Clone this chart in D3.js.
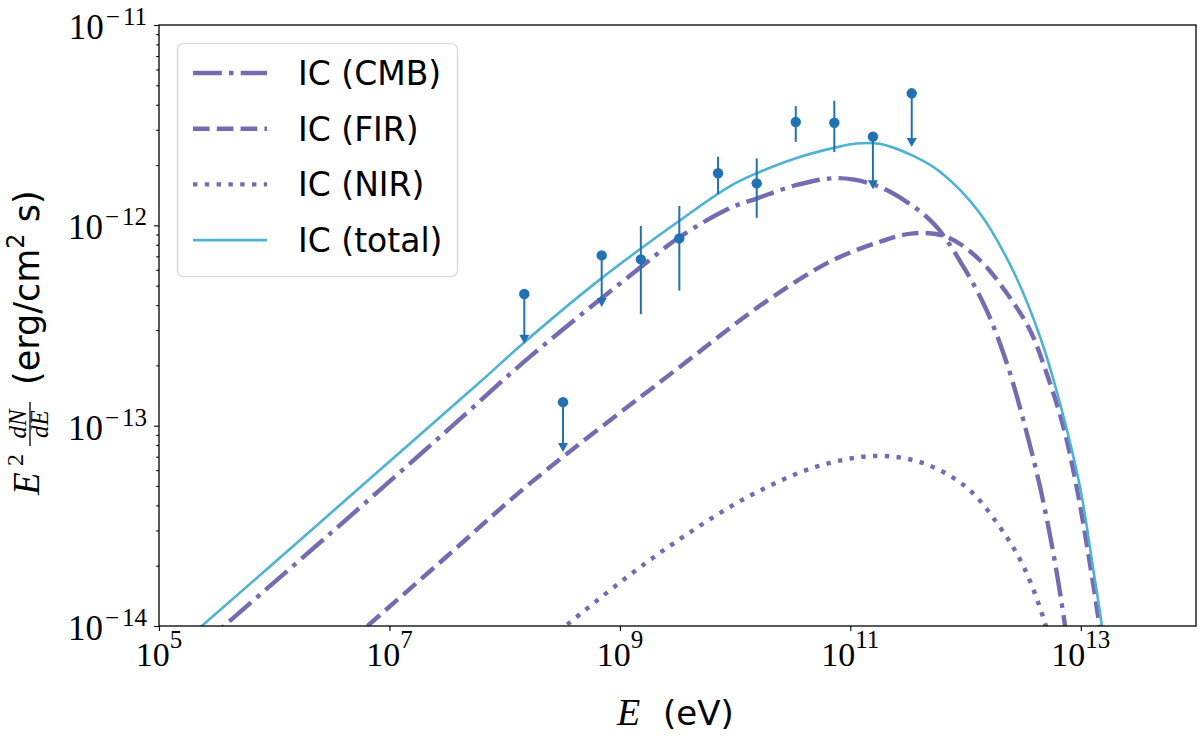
<!DOCTYPE html>
<html>
<head>
<meta charset="utf-8">
<script src="https://cdn.jsdelivr.net/npm/d3@7"></script>
<style>
  html, body { margin: 0; padding: 0; background: #fff; }
  svg { display: block; }
</style>
</head>
<body>
<div id="chart"></div>
<script>
// Flux points (eV, erg/cm^2/s)
const pointE = [1.48e8, 3.21e8, 6.95e8, 1.52e9, 3.28e9, 7.11e9, 1.54e10, 3.36e10, 7.26e10, 1.57e11, 3.41e11];
const pointFlux = [4.54e-13, 1.31e-13, 7.08e-13, 6.76e-13, 8.61e-13, 1.82e-12, 1.62e-12, 3.28e-12, 3.25e-12, 2.77e-12, 4.56e-12];
const pointLow = [2.62e-13, 7.57e-14, 4.00e-13, 3.60e-13, 4.72e-13, 1.43e-12, 1.09e-12, 2.61e-12, 2.32e-12, 1.55e-12, 2.52e-12];
const pointHigh = [null, null, null, 9.93e-13, 1.25e-12, 2.20e-12, 2.16e-12, 3.94e-12, 4.19e-12, null, null];
const upperLimit = [true, true, true, false, false, false, false, false, false, true, true];

// Model curves
const cmbE = [2.0e5, 3.74e5, 3.16e6, 3.16e7, 1.66e8, 1.52e9, 3.33e9, 9.04e9, 1.54e10, 3.42e10, 7.60e10, 1.58e11, 3.08e11, 5.45e11, 9.57e11, 1.52e12, 2.28e12, 3.17e12, 4.43e12, 5.78e12, 7.29e12, 8.32e12];
const cmbFlux = [7.36e-15, 1.01e-14, 2.94e-14, 9.44e-14, 2.21e-13, 6.19e-13, 8.77e-13, 1.22e-12, 1.36e-12, 1.59e-12, 1.72e-12, 1.60e-12, 1.31e-12, 1.00e-12, 6.22e-13, 3.78e-13, 2.05e-13, 1.07e-13, 4.95e-14, 2.31e-14, 1.01e-14, 5.6e-15];

const firE = [3.16e6, 6.35e6, 3.16e7, 1.66e8, 3.33e9, 1.76e10, 6.67e10, 1.81e11, 3.52e11, 6.85e11, 1.33e12, 2.28e12, 3.62e12, 5.06e12, 7.06e12, 9.20e12, 1.16e13, 1.45e13, 1.66e13];
const firFlux = [6.98e-15, 9.93e-15, 2.23e-14, 5.15e-14, 1.97e-13, 4.08e-13, 6.59e-13, 8.28e-13, 9.12e-13, 8.77e-13, 6.71e-13, 4.58e-13, 3.00e-13, 1.82e-13, 9.89e-14, 4.95e-14, 2.31e-14, 1.01e-14, 5.6e-15];

const nirE = [2.0e8, 3.43e8, 1.16e9, 3.62e9, 1.30e10, 5.07e10, 1.71e11, 4.32e11, 1.02e12, 1.93e12, 3.19e12, 4.90e12, 5.75e12];
const nirFlux = [7.94e-15, 1.01e-14, 1.76e-14, 2.81e-14, 4.42e-14, 6.24e-14, 7.06e-14, 6.49e-14, 4.92e-14, 3.19e-14, 1.98e-14, 1.03e-14, 7.08e-15];

const totalE = [1.0e5, 2.35e5, 1.0e6, 1.0e7, 6.11e7, 1.45e8, 6.95e8, 3.33e9, 9.04e9, 1.54e10, 3.42e10, 7.5e10, 1.13e11, 1.81e11, 3.52e11, 6.0e11, 1.33e12, 2.60e12, 4.43e12, 6.61e12, 9.84e12, 1.285e13, 1.52e13, 1.78e13];
const totalFlux = [6.50e-15, 1.0e-14, 2.07e-14, 6.62e-14, 1.65e-13, 2.58e-13, 5.45e-13, 1.06e-12, 1.57e-12, 1.82e-12, 2.17e-12, 2.45e-12, 2.56e-12, 2.55e-12, 2.22e-12, 1.85e-12, 1.15e-12, 5.9e-13, 2.78e-13, 1.29e-13, 4.95e-14, 1.91e-14, 1.01e-14, 4.47e-15];

const legendLabels = ['IC (CMB)', 'IC (FIR)', 'IC (NIR)', 'IC (total)'];
const xTicks = [1e5, 1e7, 1e9, 1e11, 1e13];
const xTickExp = ['5', '7', '9', '11', '13'];
const yTicks = [1e-14, 1e-13, 1e-12, 1e-11];
const yTickExp = ['14', '13', '12', '11'];

const purple = '#756bb1';
const cyan = '#4eb3d3';
const blue = '#2171b5';
const serif = "'Liberation Serif', 'DejaVu Serif', serif";
const sans = "'DejaVu Sans', sans-serif";

const width = 1200;
const height = 746;
const plot = {left: 159, right: 1196, top: 25, bottom: 626};

const svg = d3.select('#chart').append('svg')
    .attr('width', width)
    .attr('height', height);

const x = d3.scaleLog().domain([1e5, 1e14]).range([plot.left, plot.right]);
const y = d3.scaleLog().domain([1e-14, 1e-11]).range([plot.bottom, plot.top]);

svg.append('clipPath').attr('id', 'plot-clip')
  .append('rect')
    .attr('x', plot.left).attr('y', plot.top)
    .attr('width', plot.right - plot.left)
    .attr('height', plot.bottom - plot.top);

// Curves
const series = [
    {e: cmbE, f: cmbFlux, color: purple, w: 4.4, dash: '28.8,7.2,4.5,7.2'},
    {e: firE, f: firFlux, color: purple, w: 4.4, dash: '16.6,7.2'},
    {e: nirE, f: nirFlux, color: purple, w: 4.4, dash: '4.4,7.4'},
    {e: totalE, f: totalFlux, color: cyan, w: 2.6, dash: null}
];

const line = d3.line()
    .x(d => x(d[0]))
    .y(d => y(d[1]))
    .curve(d3.curveCatmullRom.alpha(0.5));

const curves = svg.append('g').attr('clip-path', 'url(#plot-clip)');
series.forEach(s => {
    curves.append('path')
        .attr('d', line(s.e.map((e, i) => [e, s.f[i]])))
        .attr('fill', 'none')
        .attr('stroke', s.color)
        .attr('stroke-width', s.w)
        .attr('stroke-dasharray', s.dash);
});

// Data points, error bars and upper limits
const points = svg.append('g');
pointE.forEach((e, i) => {
    const px = x(e);
    const top = upperLimit[i] ? y(pointFlux[i]) : y(pointHigh[i]);
    const bottom = y(pointLow[i]);
    points.append('line')
        .attr('x1', px).attr('x2', px)
        .attr('y1', top).attr('y2', upperLimit[i] ? bottom - 4 : bottom)
        .attr('stroke', blue)
        .attr('stroke-width', 2);
    if (upperLimit[i]) {
        points.append('path')
            .attr('d', `M${px - 5},${bottom - 7}L${px + 5},${bottom - 7}L${px},${bottom + 2}Z`)
            .attr('fill', blue);
    }
    points.append('circle')
        .attr('cx', px)
        .attr('cy', y(pointFlux[i]))
        .attr('r', 5.2)
        .attr('fill', blue);
});

// Axes
const xAxis = svg.append('g')
    .attr('transform', `translate(0,${plot.bottom})`)
    .call(d3.axisBottom(x).tickValues(xTicks).tickSize(5).tickFormat(''));

const minorY = [];
[1e-14, 1e-13, 1e-12].forEach(base => {
    [2, 3, 4, 5, 6, 7, 8, 9].forEach(m => minorY.push(base * m));
});
const yMinor = svg.append('g')
    .attr('transform', `translate(${plot.left},0)`)
    .call(d3.axisLeft(y).tickValues(minorY).tickSize(2.8).tickFormat(''));
const yAxis = svg.append('g')
    .attr('transform', `translate(${plot.left},0)`)
    .call(d3.axisLeft(y).tickValues(yTicks).tickSize(5).tickFormat(''));

[xAxis, yMinor, yAxis].forEach(a => {
    a.select('.domain').remove();
    a.selectAll('.tick line').attr('stroke', '#000').attr('stroke-width', 1.1);
});

// Tick labels as 10^n
xTicks.forEach((t, i) => {
    const label = svg.append('text')
        .attr('x', x(t))
        .attr('y', 666)
        .attr('text-anchor', 'middle')
        .attr('font-family', serif)
        .attr('font-size', 34)
        .attr('fill', '#000');
    label.append('tspan').text('10');
    label.append('tspan').attr('dy', -18).attr('font-size', 25).text(xTickExp[i]);
});

yTicks.forEach((t, i) => {
    const label = svg.append('text')
        .attr('x', 147)
        .attr('y', y(t) + 14)
        .attr('text-anchor', 'end')
        .attr('font-family', serif)
        .attr('font-size', 35)
        .attr('fill', '#000');
    label.append('tspan').text('10');
    label.append('tspan').attr('dy', -14).attr('dx', 2).attr('font-size', 25).text('\u2212');
    label.append('tspan').attr('dx', 3).attr('font-size', 25).text(yTickExp[i]);
});

// x label: E (eV)
svg.append('text')
    .attr('x', 617).attr('y', 725)
    .attr('font-family', serif).attr('font-style', 'italic').attr('font-size', 38)
    .attr('fill', '#000')
    .text('E');
svg.append('text')
    .attr('x', 663).attr('y', 725)
    .attr('font-family', sans).attr('font-size', 34)
    .attr('fill', '#000')
    .text('(eV)');

// y label: E^2 dN/dE (erg/cm^2 s)
const yLabel = svg.append('g')
    .attr('transform', 'translate(39,495) rotate(-90)')
    .attr('fill', '#000');
yLabel.append('text')
    .attr('x', 0).attr('y', 0)
    .attr('font-family', serif).attr('font-style', 'italic').attr('font-size', 37)
    .text('E');
yLabel.append('text')
    .attr('x', 29).attr('y', -16)
    .attr('font-family', serif).attr('font-size', 24)
    .text('2');
yLabel.append('text')
    .attr('x', 71).attr('y', -13)
    .attr('text-anchor', 'middle')
    .attr('font-family', serif).attr('font-style', 'italic').attr('font-size', 25)
    .text('dN');
yLabel.append('line')
    .attr('x1', 49).attr('x2', 93)
    .attr('y1', -9).attr('y2', -9)
    .attr('stroke', '#000').attr('stroke-width', 1.3);
yLabel.append('text')
    .attr('x', 71).attr('y', 9)
    .attr('text-anchor', 'middle')
    .attr('font-family', serif).attr('font-style', 'italic').attr('font-size', 25)
    .text('dE');
const units = yLabel.append('text')
    .attr('x', 110).attr('y', 0)
    .attr('font-family', sans).attr('font-size', 35);
units.append('tspan').text('(erg/cm');
units.append('tspan').attr('dy', -15).attr('font-size', 24).text('2');
units.append('tspan').attr('dy', 15).text(' s)');

// Legend
const legend = svg.append('g');
legend.append('rect')
    .attr('x', 177.5).attr('y', 43.5)
    .attr('width', 280).attr('height', 233)
    .attr('rx', 6)
    .attr('fill', '#fff').attr('fill-opacity', 0.8)
    .attr('stroke', '#d6d6d6').attr('stroke-width', 1.2);
legendLabels.forEach((name, i) => {
    const ly = 73 + i * 55.7;
    const s = series[i];
    legend.append('line')
        .attr('x1', 193).attr('x2', 267)
        .attr('y1', ly).attr('y2', ly)
        .attr('stroke', s.color)
        .attr('stroke-width', s.w)
        .attr('stroke-dasharray', s.dash);
    legend.append('text')
        .attr('x', 298).attr('y', ly)
        .attr('dy', '0.36em')
        .attr('font-family', sans).attr('font-size', 33)
        .attr('fill', '#000')
        .text(name);
});

// Frame on top
svg.append('rect')
    .attr('x', plot.left).attr('y', plot.top)
    .attr('width', plot.right - plot.left)
    .attr('height', plot.bottom - plot.top)
    .attr('fill', 'none')
    .attr('stroke', '#000')
    .attr('stroke-width', 1.3);
</script>
</body>
</html>
